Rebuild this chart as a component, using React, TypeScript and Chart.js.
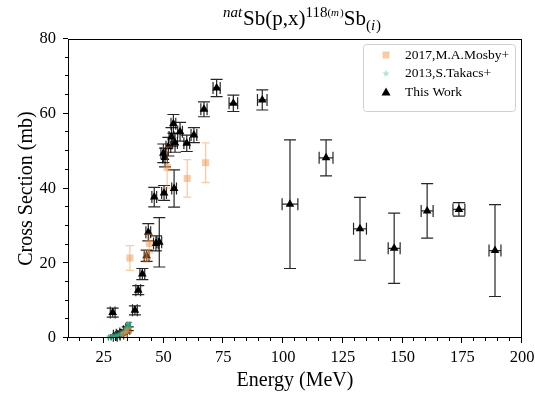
import React, { useEffect, useRef } from "react";
import { Chart, registerables } from "chart.js";

Chart.register(...registerables);

// ---------- data ----------
const mosbyEnergy = [33.5, 35.2, 35.9, 42.9, 44.0, 51.5, 59.9, 67.6];
const mosbyXS = [1.0, 2.0, 21.4, 21.8, 25.3, 45.6, 42.7, 46.9];
const mosbyXSErr = [0.3, 0.4, 3.3, 1.5, 2.5, 5.5, 5.0, 5.3];

const takacsEnergy = [27.5, 28.5, 29.5, 30.5, 31.5, 32.5, 33.5, 34.0, 34.5, 35.0, 35.5];
const takacsXS = [0.1, 0.3, 0.5, 0.7, 0.9, 1.2, 1.5, 1.9, 2.4, 3.0, 3.6];
const takacsXSErr = [0.05, 0.1, 0.1, 0.15, 0.2, 0.2, 0.3, 0.3, 0.4, 0.5, 0.6];
const takacsEnergyErr = [0.6, 0.6, 0.6, 0.6, 0.6, 0.6, 0.6, 0.6, 0.6, 0.6, 0.6];

const workEnergy = [
  28.7, 29.8, 31.0, 32.5, 34.0, 35.0, 38.0, 39.4, 41.1, 42.9, 43.6, 46.1, 46.8, 48.2,
  50.2, 54.4, 49.9, 50.6, 52.0, 53.3, 54.8, 54.1, 56.9, 59.7, 62.7, 66.9, 72.2, 79.2,
  91.3, 102.9, 118.0, 132.2, 146.5, 160.3, 173.6, 188.7,
];
const workXS = [
  6.8, 0.6, 0.9, 1.2, 1.8, 2.5, 7.4, 12.8, 17.1, 22.0, 28.3, 37.7, 25.3, 25.6,
  38.8, 40.0, 49.4, 48.3, 51.2, 53.8, 52.2, 57.3, 55.2, 52.1, 54.3, 61.2, 66.9, 62.8,
  63.7, 35.8, 48.2, 29.2, 24.0, 34.0, 34.4, 23.4,
];
const workEnergyErr = [
  1.0, 0.8, 0.8, 0.8, 0.8, 0.8, 1.0, 1.0, 1.0, 1.0, 1.0, 1.0, 1.0, 1.0,
  1.0, 1.0, 1.0, 1.0, 1.0, 1.0, 1.0, 1.0, 1.0, 1.2, 1.2, 1.3, 1.5, 1.8,
  2.0, 3.3, 2.9, 2.7, 2.5, 2.5, 2.5, 2.5,
];
const workXSErr = [
  1.2, 0.2, 0.3, 0.3, 0.4, 0.5, 1.2, 1.2, 1.5, 1.5, 2.3, 2.6, 2.0, 6.6,
  2.0, 5.0, 2.5, 2.5, 2.5, 2.5, 2.5, 2.5, 2.5, 2.2, 2.0, 2.0, 2.3, 2.2,
  2.7, 17.2, 4.8, 8.4, 9.4, 7.3, 1.8, 12.3,
];

const legendLabels = ["2017,M.A.Mosby+", "2013,S.Takacs+", "This Work"];
const xTickStep = 5;
const xLabelStep = 25;
const yTickStep = 5;
const yLabelStep = 20;
const xAxisTitle = "Energy (MeV)";
const yAxisTitle = "Cross Section (mb)";

const SERIF = '"Liberation Serif", "DejaVu Serif", serif';

const MOSBY_COLOR = "rgba(240,140,60,0.45)";
const TAKACS_FILL = "rgba(80,190,160,0.45)";
const TAKACS_ERR = "rgba(20,110,80,0.75)";

function makeStar(size: number, color: string): HTMLCanvasElement {
  const c = document.createElement("canvas");
  c.width = size;
  c.height = size;
  const g = c.getContext("2d")!;
  const cx = size / 2, cy = size / 2, R = size / 2, r = R * 0.4;
  g.beginPath();
  for (let i = 0; i < 10; i++) {
    const a = -Math.PI / 2 + (i * Math.PI) / 5;
    const rad = i % 2 === 0 ? R : r;
    const x = cx + rad * Math.cos(a), y = cy + rad * Math.sin(a);
    if (i === 0) g.moveTo(x, y); else g.lineTo(x, y);
  }
  g.closePath();
  g.fillStyle = color;
  g.fill();
  return c;
}

const errorBarPlugin = {
  id: "errorBars",
  beforeDatasetDraw(chart: any, args: any) {
    const ds = chart.data.datasets[args.index];
    const xs = chart.scales.x, ys = chart.scales.y;
    const ctx = chart.ctx;
    ctx.save();
    ctx.strokeStyle = ds.errColor;
    ctx.lineWidth = ds.errWidth;
    const cap = ds.capSize;
    ds.data.forEach((p: any, i: number) => {
      const px = xs.getPixelForValue(p.x);
      const py = ys.getPixelForValue(p.y);
      const ey = ds.errY ? ds.errY[i] : 0;
      const ex = ds.errX ? ds.errX[i] : 0;
      ctx.beginPath();
      if (ey) {
        const y1 = ys.getPixelForValue(p.y - ey);
        const y2 = ys.getPixelForValue(p.y + ey);
        ctx.moveTo(px, y1); ctx.lineTo(px, y2);
        ctx.moveTo(px - cap, y1); ctx.lineTo(px + cap, y1);
        ctx.moveTo(px - cap, y2); ctx.lineTo(px + cap, y2);
      }
      if (ex) {
        const x1 = xs.getPixelForValue(p.x - ex);
        const x2 = xs.getPixelForValue(p.x + ex);
        ctx.moveTo(x1, py); ctx.lineTo(x2, py);
        ctx.moveTo(x1, py - cap); ctx.lineTo(x1, py + cap);
        ctx.moveTo(x2, py - cap); ctx.lineTo(x2, py + cap);
      }
      ctx.stroke();
    });
    ctx.restore();
  },
};

const decorPlugin = {
  id: "decor",
  afterDraw(chart: any) {
    const ctx = chart.ctx;
    const a = chart.chartArea;
    const xs = chart.scales.x, ys = chart.scales.y;
    ctx.save();
    // frame
    ctx.strokeStyle = "#000";
    ctx.lineWidth = 1;
    ctx.strokeRect(Math.round(a.left) + 0.5, Math.round(a.top) + 0.5,
      Math.round(a.right - a.left) - 1, Math.round(a.bottom - a.top) - 1);
    // ticks
    ctx.beginPath();
    xs.ticks.forEach((t: any) => {
      const x = Math.round(xs.getPixelForValue(t.value)) - 0.5;
      const len = t.value % xLabelStep === 0 ? 5 : 3;
      ctx.moveTo(x, a.bottom); ctx.lineTo(x, a.bottom + len);
    });
    ys.ticks.forEach((t: any) => {
      const y = Math.round(ys.getPixelForValue(t.value)) - 0.5;
      const len = t.value % yLabelStep === 0 ? 5 : 3;
      ctx.moveTo(a.left, y); ctx.lineTo(a.left - len, y);
    });
    ctx.stroke();

    // axis titles
    ctx.fillStyle = "#000";
    ctx.font = `20px ${SERIF}`;
    ctx.textAlign = "center";
    ctx.textBaseline = "middle";
    ctx.fillText(xAxisTitle, (a.left + a.right) / 2, 381);
    ctx.save();
    ctx.translate(27, (a.top + a.bottom) / 2);
    ctx.rotate(-Math.PI / 2);
    ctx.fillText(yAxisTitle, 0, 0);
    ctx.restore();

    // title with super/subscripts
    const segs = [
      { t: "nat", size: 15, italic: true, dy: -8 },
      { t: "Sb(p,x)", size: 21, italic: false, dy: 0 },
      { t: "118", size: 15, italic: false, dy: -8 },
      { t: "(", size: 11, italic: false, dy: -9 },
      { t: "m", size: 11, italic: true, dy: -9 },
      { t: ")", size: 11, italic: false, dy: -9 },
      { t: "Sb", size: 21, italic: false, dy: 0 },
      { t: "(", size: 15, italic: false, dy: 5 },
      { t: "i", size: 15, italic: true, dy: 5 },
      { t: ")", size: 15, italic: false, dy: 5 },
    ];
    ctx.textAlign = "left";
    ctx.textBaseline = "alphabetic";
    let total = 0;
    const widths = segs.map((s) => {
      ctx.font = `${s.italic ? "italic " : ""}${s.size}px ${SERIF}`;
      const w = ctx.measureText(s.t).width + (s.italic ? 1 : 0);
      total += w;
      return w;
    });
    let x = 302 - total / 2;
    const base = 25;
    segs.forEach((s, i) => {
      ctx.font = `${s.italic ? "italic " : ""}${s.size}px ${SERIF}`;
      ctx.fillText(s.t, x, base + s.dy);
      x += widths[i];
    });

    // legend
    const lx = 363.5, ly = 44.5, lw = 152, lh = 67;
    ctx.beginPath();
    const r = 3;
    ctx.moveTo(lx + r, ly);
    ctx.lineTo(lx + lw - r, ly); ctx.quadraticCurveTo(lx + lw, ly, lx + lw, ly + r);
    ctx.lineTo(lx + lw, ly + lh - r); ctx.quadraticCurveTo(lx + lw, ly + lh, lx + lw - r, ly + lh);
    ctx.lineTo(lx + r, ly + lh); ctx.quadraticCurveTo(lx, ly + lh, lx, ly + lh - r);
    ctx.lineTo(lx, ly + r); ctx.quadraticCurveTo(lx, ly, lx + r, ly);
    ctx.closePath();
    ctx.fillStyle = "rgba(255,255,255,0.8)";
    ctx.fill();
    ctx.strokeStyle = "#d0d0d0";
    ctx.lineWidth = 1;
    ctx.stroke();

    const rows = [55, 73.5, 92];
    const mx = 386;
    ctx.fillStyle = MOSBY_COLOR;
    ctx.fillRect(mx - 3.5, rows[0] - 3.5, 7, 7);
    const star = makeStar(8, TAKACS_FILL);
    ctx.drawImage(star, mx - 4, rows[1] - 4);
    ctx.fillStyle = "#000";
    ctx.beginPath();
    ctx.moveTo(mx, rows[2] - 4.5);
    ctx.lineTo(mx + 4.5, rows[2] + 3.5);
    ctx.lineTo(mx - 4.5, rows[2] + 3.5);
    ctx.closePath();
    ctx.fill();

    ctx.fillStyle = "#000";
    ctx.font = `13.5px ${SERIF}`;
    ctx.textBaseline = "middle";
    legendLabels.forEach((lab, i) => ctx.fillText(lab, 405, rows[i]));
    ctx.restore();
  },
};

export default function App() {
  const ref = useRef<HTMLCanvasElement>(null);
  useEffect(() => {
    document.body.style.margin = "0";
    const starImg = makeStar(8, TAKACS_FILL);
    const chart = new Chart(ref.current!, {
      type: "scatter",
      data: {
        datasets: [
          {
            label: legendLabels[0],
            data: mosbyEnergy.map((e, i) => ({ x: e, y: mosbyXS[i] })),
            pointStyle: "rect",
            pointRadius: 5,
            backgroundColor: MOSBY_COLOR,
            borderWidth: 0,
            errY: mosbyXSErr,
            errColor: MOSBY_COLOR,
            errWidth: 1.3,
            capSize: 4,
          } as any,
          {
            label: legendLabels[1],
            data: takacsEnergy.map((e, i) => ({ x: e, y: takacsXS[i] })),
            pointStyle: starImg,
            pointRadius: 4,
            backgroundColor: TAKACS_FILL,
            borderWidth: 0,
            errY: takacsXSErr,
            errX: takacsEnergyErr,
            errColor: TAKACS_ERR,
            errWidth: 1.2,
            capSize: 3,
          } as any,
          {
            label: legendLabels[2],
            data: workEnergy.map((e, i) => ({ x: e, y: workXS[i] })),
            pointStyle: "triangle",
            pointRadius: 5,
            backgroundColor: "#000",
            borderColor: "#000",
            borderWidth: 0,
            errY: workXSErr,
            errX: workEnergyErr,
            errColor: "rgba(0,0,0,0.85)",
            errWidth: 1.2,
            capSize: 6,
          } as any,
        ],
      },
      options: {
        animation: false,
        responsive: false,
        events: [],
        layout: { padding: { top: 39, right: 13, left: 0, bottom: 0 } },
        plugins: {
          legend: { display: false },
          tooltip: { enabled: false },
          title: { display: false },
        },
        scales: {
          x: {
            type: "linear",
            min: 10,
            max: 200,
            afterFit: (s: any) => {
              s.height = 56;
              s.paddingLeft = 0;
              s.paddingRight = 0;
            },
            grid: { display: false, drawTicks: false },
            border: { display: false },
            ticks: {
              stepSize: xTickStep,
              autoSkip: false,
              maxRotation: 0,
              padding: 10,
              color: "#000",
              font: { family: SERIF, size: 16.5 },
              callback: (v: any) => (Number(v) % xLabelStep === 0 ? String(v) : ""),
            },
          },
          y: {
            type: "linear",
            min: 0,
            max: 80,
            afterFit: (s: any) => {
              s.width = 68;
              s.paddingTop = 0;
              s.paddingBottom = 0;
            },
            grid: { display: false, drawTicks: false },
            border: { display: false },
            ticks: {
              stepSize: yTickStep,
              autoSkip: false,
              padding: 12,
              color: "#000",
              font: { family: SERIF, size: 16.5 },
              callback: (v: any) => (Number(v) % yLabelStep === 0 ? String(v) : ""),
            },
          },
        },
      },
      plugins: [errorBarPlugin, decorPlugin],
    });
    return () => chart.destroy();
  }, []);
  return (
    <div style={{ position: "absolute", left: 0, top: 0, width: 535, height: 394 }}>
      <canvas ref={ref} width={535} height={394} style={{ display: "block" }} />
    </div>
  );
}
